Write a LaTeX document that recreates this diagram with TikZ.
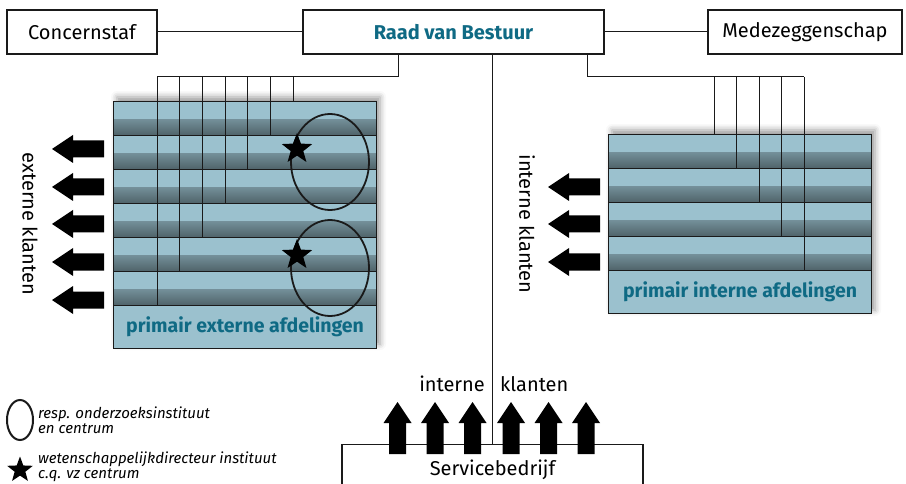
\documentclass[tikz,border=0pt]{standalone}
\usepackage{fontspec}
\setmainfont{Fira Sans}
\usetikzlibrary{shapes.geometric,shadows.blur}

\definecolor{afdblue}{HTML}{9BC1CE}
\definecolor{afdtext}{HTML}{0F6A84}
\definecolor{lijn}{HTML}{1A1A1A}

\tikzset{
  lijnstijl/.style={draw=lijn,line width=1pt},
  orgbox/.style={draw=lijn,line width=1.1pt,fill=white,minimum height=44pt,inner sep=0pt,
    font=\fontsize{20}{24}\selectfont},
  afdrow/.style={draw=lijn,line width=1.1pt,fill=afdblue,minimum height=34pt,minimum width=263pt,
    inner sep=0pt,anchor=north west,
    path picture={\shade[top color=afdblue,middle color=afdblue!90!black,bottom color=afdblue!45!black]
      ([yshift=16pt]path picture bounding box.south west) rectangle ([yshift=-4pt]path picture bounding box.south east);}},
  afdbase/.style={draw=lijn,line width=1.1pt,fill=afdblue,minimum height=43pt,minimum width=263pt,
    inner sep=0pt,anchor=north west,text=afdtext,font=\bfseries\fontsize{19.5}{22}\selectfont},
  blokschaduw/.style={fill=afdblue,blur shadow={shadow xshift=4pt,shadow yshift=4pt,shadow blur radius=6pt}},
  instituut/.style={draw=lijn,line width=1.8pt,ellipse,minimum width=78pt,minimum height=96pt,inner sep=0pt},
  ster/.style={star,star points=5,star point ratio=2.4,fill=black,minimum size=32pt,inner sep=0pt},
  klant/.style={font=\fontsize{20}{24}\selectfont,inner sep=0pt},
  legenda/.style={anchor=west,align=left,inner sep=0pt,font=\itshape\fontsize{15}{15.5}\selectfont},
  pics/dikpijl/.style={code={\fill[black] (0,-8.5) -- (31,-8.5) -- (31,-14) -- (52,0) -- (31,14) -- (31,8.5) -- (0,8.5) -- cycle;}}
}

\begin{document}
\begin{tikzpicture}[x=1pt,y=-1pt]
  \useasboundingbox (0,0) rectangle (906,484);

  % bovenste rij
  \node[orgbox,minimum width=150pt] (staf) at (82,32) {Concernstaf};
  \node[orgbox,minimum width=301pt,text=afdtext,font=\bfseries\fontsize{20}{24}\selectfont] (rvb) at (453.5,32) {Raad van Bestuur};
  \node[orgbox,minimum width=194pt] (mz) at (805,32) {Medezeggenschap};
  \draw[lijnstijl] (staf) -- (rvb);
  \draw[lijnstijl] (rvb) -- (mz);

  % blokken
  \fill[blokschaduw] (113,101) rectangle (376,348);
  \fill[blokschaduw] (608,134) rectangle (871,314);
  \foreach \i in {1,...,6}
    \node[afdrow] (ext\i) at (113,{101+34*(\i-1)}) {};
  \node[afdbase] (extbasis) at (113,305) {primair externe afdelingen};
  \foreach \i in {1,...,4}
    \node[afdrow] (int\i) at (608,{134+34*(\i-1)}) {};
  \node[afdbase] (intbasis) at (608,270) {primair interne afdelingen};

  % lijnen naar de afdelingen
  \coordinate (lknik) at (398,77);
  \coordinate (lbus) at (157,77);
  \draw[lijnstijl] (rvb.south -| lknik) -- (lknik) -- (lbus);
  \foreach \j/\eind in {0/ext6.south,1/ext5.south,2/ext4.south,3/ext3.south,4/ext2.south,5/ext1.south,6/ext1.north}{
    \coordinate (lt\j) at ({157+22.67*\j},77);
    \draw[lijnstijl] (lt\j) -- (lt\j |- \eind);
  }
  \coordinate (rknik) at (587,77);
  \coordinate (rbus) at (804,77);
  \draw[lijnstijl] (rvb.south -| rknik) -- (rknik) -- (rbus);
  \foreach \j/\eind in {0/int1.north,1/int1.south,2/int2.south,3/int3.south,4/int4.south}{
    \coordinate (rt\j) at ({714+22.5*\j},77);
    \draw[lijnstijl] (rt\j) -- (rt\j |- \eind);
  }

  % instituten en centra
  \node[instituut] (inst1) at (330,162) {};
  \node[instituut] (inst2) at (330,268) {};
  \node[ster] (dir1) at (297,149) {};
  \node[ster] (dir2) at (297,255) {};

  % servicebedrijf
  \node[orgbox,minimum width=301pt,minimum height=50pt,anchor=north] (sb) at (492.5,444) {Servicebedrijf};
  \draw[lijnstijl] (rvb.south -| sb.north) -- (sb.north);

  % klanten
  \foreach \y in {149,187,224,262,300}
    \pic[rotate=180] at (104,\y) {dikpijl};
  \foreach \y in {187,224,262}
    \pic[rotate=180] at (600,\y) {dikpijl};
  \foreach \x in {397.5,435,472.5,511,548.5,586}
    \pic[rotate=90] at (\x,454) {dikpijl};
  \node[klant,rotate=-90] (extkl) at (30,224) {externe klanten};
  \node[klant,rotate=-90] (intkl) at (527,224) {interne klanten};
  \node[klant,anchor=east] (svkl1) at (485,384) {interne};
  \node[klant,anchor=west] (svkl2) at (500,384) {klanten};

  % legenda
  \node[draw=lijn,line width=2pt,ellipse,minimum width=26pt,minimum height=40pt,inner sep=0pt] (legovaal) at (20,420) {};
  \node[legenda] (legtekst1) at (38,420) {resp. onderzoeksinstituut\\en centrum};
  \node[ster,minimum size=27pt] (legster) at (20,470) {};
  \node[legenda] (legtekst2) at (38,467) {wetenschappelijkdirecteur instituut\\c.q. vz centrum};
\end{tikzpicture}
\end{document}
